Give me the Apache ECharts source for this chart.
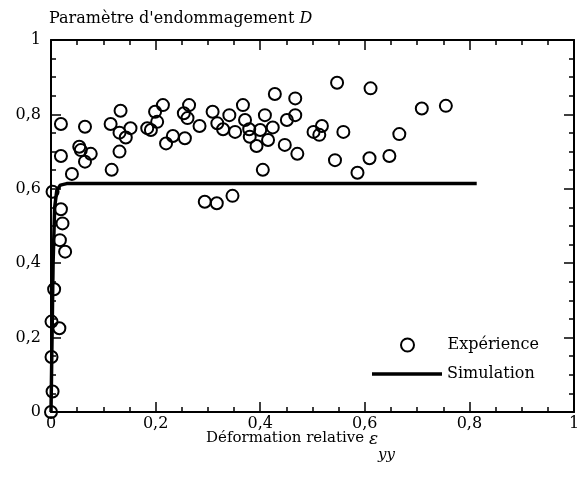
<!DOCTYPE html>
<html>
<head>
<meta charset="utf-8">
<script src="https://cdn.jsdelivr.net/npm/echarts@6/dist/echarts.min.js"></script>
<style>html,body{margin:0;padding:0;background:#fff}#c{width:584px;height:479px}</style>
</head>
<body>
<div id="c"></div>
<script>
const xTicks = [0, 0.2, 0.4, 0.6, 0.8, 1];
const yTicks = [0, 0.2, 0.4, 0.6, 0.8, 1];
const expX = [0,0.003,0.001,0.001,0.016,0.006,0.003,0.019,0.022,0.017,0.027,0.040,0.019,0.019,0.065,0.054,0.057,0.065,0.076,0.116,0.114,0.133,0.131,0.143,0.152,0.131,0.184,0.191,0.199,0.214,0.203,0.220,0.233,0.256,0.264,0.254,0.261,0.284,0.309,0.318,0.341,0.329,0.352,0.367,0.371,0.379,0.400,0.409,0.424,0.415,0.393,0.380,0.428,0.451,0.447,0.405,0.294,0.317,0.347,0.467,0.467,0.471,0.502,0.513,0.518,0.559,0.547,0.611,0.543,0.586,0.609,0.647,0.666,0.709,0.755];
const expY = [0,0.055,0.148,0.243,0.225,0.330,0.592,0.545,0.507,0.462,0.431,0.640,0.774,0.688,0.767,0.713,0.704,0.673,0.694,0.651,0.774,0.810,0.751,0.738,0.763,0.700,0.763,0.758,0.807,0.825,0.780,0.722,0.742,0.736,0.825,0.803,0.790,0.769,0.807,0.776,0.798,0.760,0.753,0.825,0.785,0.760,0.758,0.798,0.765,0.731,0.715,0.740,0.855,0.785,0.718,0.651,0.565,0.561,0.581,0.843,0.798,0.694,0.753,0.745,0.769,0.753,0.885,0.870,0.677,0.643,0.682,0.688,0.747,0.816,0.823];
const simX = [0, 0.002, 0.004, 0.007, 0.011, 0.018, 0.03, 0.814];
const simY = [0, 0.2, 0.4, 0.55, 0.595, 0.61, 0.614, 0.614];

const FONT = 'DejaVu Serif';
const FS = 16;
const fmt = v => String(Number(v.toFixed(2))).replace('.', ',');
const chart = echarts.init(document.getElementById('c'), null, {renderer: 'canvas'});

function axisCommon(showLabel, margin) {
  return {
    type: 'value', min: 0, max: 1, interval: 0.2,
    axisLine: {show: true, onZero: false, lineStyle: {color: '#000', width: 2}},
    axisTick: {show: true, inside: true, length: 10, lineStyle: {color: '#000', width: 1.5}},
    minorTick: {show: true, splitNumber: 4, length: 5, lineStyle: {color: '#000', width: 1.5}},
    splitLine: {show: false},
    axisLabel: {show: showLabel, color: '#000', fontFamily: FONT, fontSize: FS, margin: margin, formatter: fmt}
  };
}

const option = {
  animation: false,
  backgroundColor: '#fff',
  grid: {left: 51, right: 10, top: 40, bottom: 67},
  title: {
    text: "Paramètre d'endommagement {i|D}",
    left: 44, top: 6,
    textStyle: {color: '#000', fontFamily: FONT, fontSize: FS, fontWeight: 'normal',
      rich: {i: {fontFamily: FONT, fontSize: FS, fontStyle: 'italic', color: '#000'}}}
  },
  xAxis: [
    Object.assign(axisCommon(true, 4), {
      position: 'bottom',
      name: '{a|Déformation relative }{e|ε}{s|yy}',
      nameLocation: 'middle', nameGap: 19, nameMoveOverlap: false,
      nameTextStyle: {
        color: '#000',
        rich: {
          a: {fontFamily: FONT, fontSize: 15, color: '#000', verticalAlign: 'top'},
          e: {fontFamily: FONT, fontSize: 17, fontStyle: 'italic', color: '#000', verticalAlign: 'top'},
          s: {fontFamily: FONT, fontSize: 15, fontStyle: 'italic', color: '#000', verticalAlign: 'top', padding: [17, 24, 0, 0]}
        }
      }
    }),
    Object.assign(axisCommon(false, 4), {position: 'top'})
  ],
  yAxis: [
    Object.assign(axisCommon(true, 10), {position: 'left'}),
    Object.assign(axisCommon(false, 10), {position: 'right'})
  ],
  legend: [
    {
      data: ['Expérience'], left: 400, top: 337, padding: 0, itemWidth: 70, itemHeight: 13,
      textStyle: {color: '#000', fontFamily: FONT, fontSize: FS}
    },
    {
      data: [{name: 'Simulation', icon: 'rect'}], left: 372, top: 366, padding: 0, itemWidth: 70, itemHeight: 3.5,
      textStyle: {color: '#000', fontFamily: FONT, fontSize: FS}
    }
  ],
  series: [
    {
      name: 'Simulation', type: 'line', symbol: 'none', showSymbol: false,
      data: simX.map((x, i) => [x, simY[i]]),
      lineStyle: {color: '#000', width: 3.5}, itemStyle: {color: '#000'}, z: 2
    },
    {
      name: 'Expérience', type: 'scatter', symbol: 'circle', symbolSize: 12,
      data: expX.map((x, i) => [x, expY[i]]),
      itemStyle: {color: 'rgba(255,255,255,0)', borderColor: '#000', borderWidth: 2, opacity: 1},
      z: 3
    }
  ]
};
chart.setOption(option);
</script>
</body>
</html>
